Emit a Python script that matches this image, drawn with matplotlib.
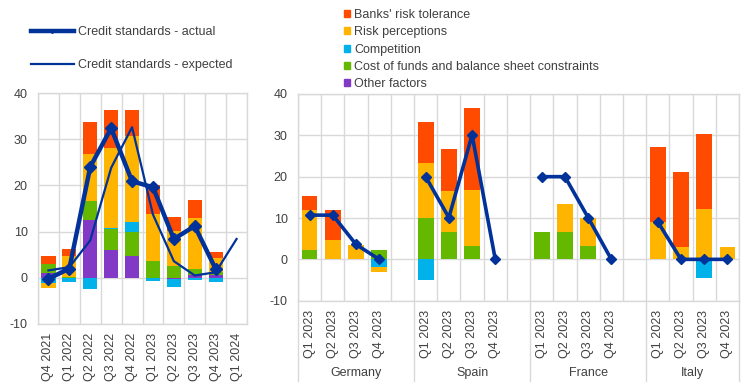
import numpy as np
import matplotlib
matplotlib.use('Agg')
import matplotlib.pyplot as plt
from matplotlib.lines import Line2D
from matplotlib.patches import Patch

plt.rcParams['font.family'] = ['Liberation Sans', 'DejaVu Sans']
plt.rcParams['font.size'] = 9
plt.rcParams['axes.unicode_minus'] = False

# ---- data: euro area (left panel) ----
ea_quarters = ['Q4 2021', 'Q1 2022', 'Q2 2022', 'Q3 2022', 'Q4 2022',
               'Q1 2023', 'Q2 2023', 'Q3 2023', 'Q4 2023', 'Q1 2024']
ea_other = [1.1, 0.0, 12.6, 6.0, 4.7, 0.0, -0.3, 0.5, 0.5, 0.0]
ea_cost = [1.8, 0.2, 4.1, 4.6, 5.2, 3.7, 2.5, 1.3, 0.7, 0.0]
ea_competition = [-1.2, -0.9, -2.5, 0.2, 2.1, -0.7, -1.6, -0.5, -0.9, 0.0]
ea_risk_perc = [-1.0, 4.5, 10.2, 17.2, 18.6, 10.2, 7.6, 11.2, 3.1, 0.0]
ea_risk_tol = [1.9, 1.6, 6.9, 8.4, 5.8, 6.1, 3.0, 3.8, 1.3, 0.0]
ea_actual = [-0.2, 2.0, 24.0, 32.4, 20.9, 19.6, 8.4, 11.2, 1.9, np.nan]
ea_expected = [1.6, 2.3, 8.1, 23.8, 32.6, 13.7, 3.6, 0.5, 1.2, 8.4]

# ---- data: countries (right panel), Q1-Q4 2023 ----
countries = ['Germany', 'Spain', 'France', 'Italy']
cty_quarters = ['Q1 2023', 'Q2 2023', 'Q3 2023', 'Q4 2023']
cty_other = {'Germany': [0, 0, 0, 0], 'Spain': [0, 0, 0, 0],
             'France': [0, 0, 0, 0], 'Italy': [0, 0, 0, 0]}
cty_cost = {'Germany': [2.3, 0, 0, 2.3], 'Spain': [9.9, 6.7, 3.3, 0],
            'France': [6.6, 6.6, 3.3, 0], 'Italy': [0, 0, 0, 0]}
cty_competition = {'Germany': [0, 0, 0, -1.9], 'Spain': [-5.0, 0, 0, 0],
                   'France': [0, 0, 0, 0], 'Italy': [0, 0, -4.6, 0]}
cty_risk_perc = {'Germany': [9.6, 4.7, 3.5, -1.1], 'Spain': [13.3, 9.8, 13.5, 0],
                 'France': [0, 6.7, 6.8, 0], 'Italy': [9.1, 3.1, 12.2, 3.1]}
cty_risk_tol = {'Germany': [3.5, 7.2, 0, 0], 'Spain': [10.1, 10.1, 19.7, 0],
                'France': [0, 0, 0, 0], 'Italy': [18.2, 18.1, 18.1, 0]}
cty_actual = {'Germany': [10.7, 10.7, 3.6, 0], 'Spain': [20.0, 10.1, 30.1, 0],
              'France': [20.0, 20.0, 10.1, 0], 'Italy': [9.1, 0, 0, 0]}

factor_names = ['Other factors', 'Cost of funds and balance sheet constraints',
                'Competition', 'Risk perceptions', "Banks' risk tolerance"]
factor_colors = ['#8139C6', '#65B800', '#00B1EA', '#FFB400', '#FF4B00']
navy = '#003299'
grid_c = '#d9d9d9'
text_c = '#404040'


def stack_bars(ax, x, series, width=0.68):
    pos = np.zeros(len(x))
    neg = np.zeros(len(x))
    for vals, col in zip(series, factor_colors):
        vals = np.asarray(vals, dtype=float)
        bottom = np.where(vals >= 0, pos, neg)
        ax.bar(x, vals, width, bottom=bottom, color=col, zorder=2)
        pos = pos + np.where(vals > 0, vals, 0)
        neg = neg + np.where(vals < 0, vals, 0)


def style_axes(ax, n):
    ax.set_ylim(-10, 40)
    ax.set_yticks([-10, 0, 10, 20, 30, 40])
    ax.set_xlim(-0.5, n - 0.5)
    ax.set_xticks(np.arange(-0.5, n, 1), minor=True)
    ax.grid(True, which='major', axis='y', color=grid_c, lw=1, zorder=0)
    ax.grid(True, which='minor', axis='x', color=grid_c, lw=1, zorder=0)
    for s in ax.spines.values():
        s.set_color(grid_c)
        s.set_linewidth(1)
    ax.tick_params(which='both', length=0, colors=text_c, labelsize=9)
    ax.tick_params(axis='y', pad=7.5)
    ax.tick_params(axis='x', pad=6.5)


fig = plt.figure(figsize=(7.44, 3.84), dpi=100)

# left panel
ax1 = fig.add_axes([38 / 744, 1 - 324 / 384, 209 / 744, 231 / 384])
x1 = np.arange(len(ea_quarters))
stack_bars(ax1, x1, [ea_other, ea_cost, ea_competition, ea_risk_perc, ea_risk_tol])
ax1.plot(x1, ea_expected, color=navy, lw=1.6, zorder=3)
ax1.plot(x1, ea_actual, color=navy, lw=3.2, marker='D', ms=6, zorder=4)
style_axes(ax1, len(ea_quarters))
ax1.set_xticks(x1)
ax1.set_xticklabels(ea_quarters, rotation=90)

# right panel
ax2 = fig.add_axes([298 / 744, 1 - 300.7 / 384, 441 / 744, 206.7 / 384])
n_slots = len(countries) * 5 - 1
labels2 = [''] * n_slots
for g, c in enumerate(countries):
    xs = np.arange(4) + g * 5
    stack_bars(ax2, xs, [cty_other[c], cty_cost[c], cty_competition[c],
                         cty_risk_perc[c], cty_risk_tol[c]])
    ax2.plot(xs, cty_actual[c], color=navy, lw=2.6, marker='D', ms=5.5, zorder=4)
    for i, q in enumerate(cty_quarters):
        labels2[g * 5 + i] = q
    # group label centred on its block of slots (last group has no spacer)
    centre = g * 5 + (2.0 if g < len(countries) - 1 else 1.5)
    ax2.text(centre, -0.35, c, transform=ax2.get_xaxis_transform(),
             ha='center', va='center', color=text_c, fontsize=9)
style_axes(ax2, n_slots)
ax2.set_xticks(np.arange(n_slots))
ax2.set_xticklabels(labels2, rotation=90)
for xb in [-0.5, 4.5, 9.5, 14.5, n_slots - 0.5]:
    ax2.plot([xb, xb], [0, -0.39], transform=ax2.get_xaxis_transform(),
             color=grid_c, lw=1, clip_on=False)

# legends
line_handles = [Line2D([], [], color=navy, lw=3.2, marker='D', ms=2),
                Line2D([], [], color=navy, lw=1.6)]
fig.legend(line_handles, ['Credit standards - actual', 'Credit standards - expected'],
           loc='upper left', bbox_to_anchor=(31 / 744, 1 - 26 / 384), frameon=False,
           borderpad=0, borderaxespad=0, handlelength=3.4, handletextpad=0.4,
           labelspacing=1.7, labelcolor=text_c, fontsize=9)

patch_handles = [Patch(color=c) for c in factor_colors[::-1]]
fig.legend(patch_handles, factor_names[::-1],
           loc='upper left', bbox_to_anchor=(344 / 744, 1 - 9 / 384), frameon=False,
           borderpad=0, borderaxespad=0, handlelength=0.5, handleheight=0.5,
           handletextpad=0.3, labelspacing=0.42, labelcolor=text_c, fontsize=9)

fig.savefig('out.png', dpi=100)
